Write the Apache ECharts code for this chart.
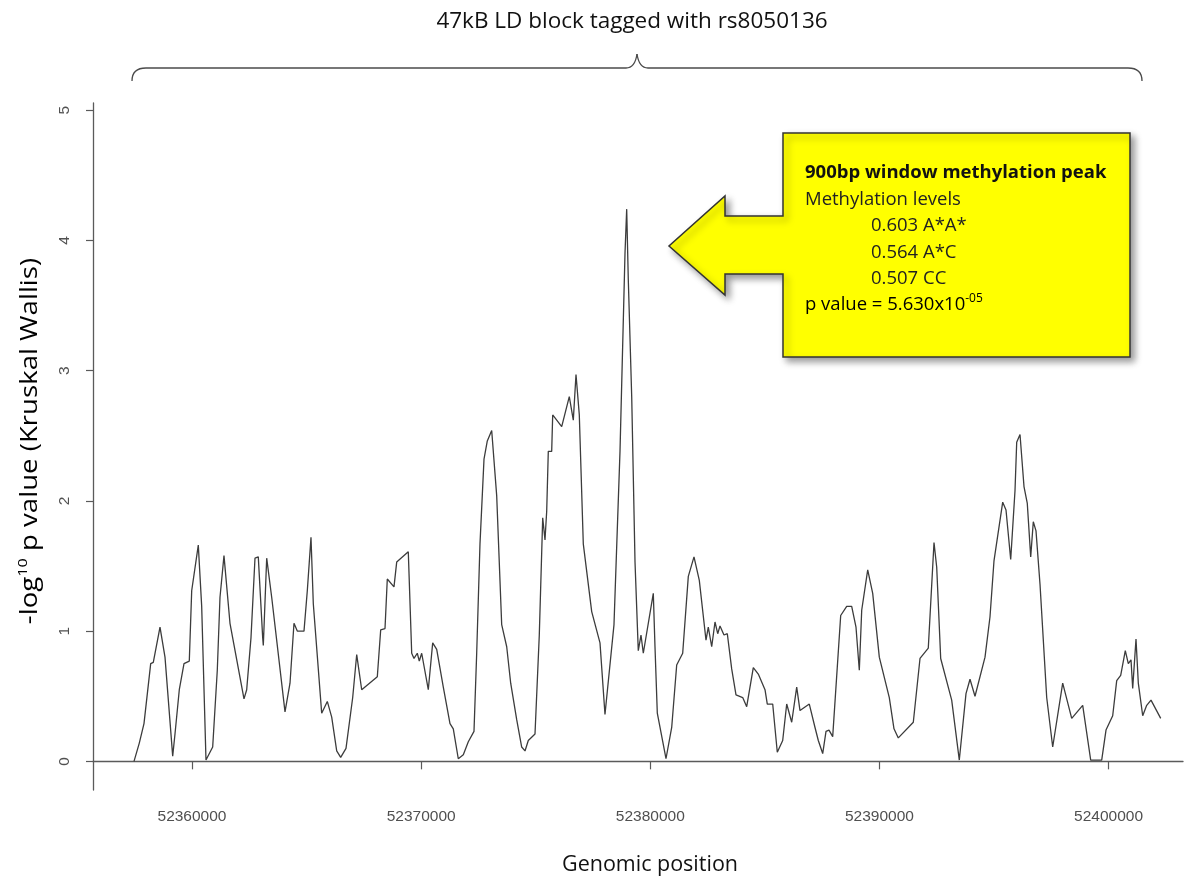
<!DOCTYPE html>
<html>
<head>
<meta charset="utf-8">
<script src="https://cdn.jsdelivr.net/npm/echarts@6.0.0/dist/echarts.min.js"></script>
<style>
  html, body { margin: 0; padding: 0; background: #ffffff; }
  #chart { width: 1192px; height: 886px; }
</style>
</head>
<body>
<div id="chart"></div>
<script>
// Genomic positions (bp) of the sliding windows
const positions = [
  52357469, 52357700, 52357905, 52358198, 52358311, 52358604, 52358822, 52359158, 52359258, 52359446,
  52359651, 52359882, 52359987, 52360275, 52360423, 52360611, 52360903, 52361104, 52361222, 52361396,
  52361658, 52362269, 52362387, 52362575, 52362749, 52362893, 52363085, 52363112, 52363260, 52363478,
  52364059, 52364277, 52364451, 52364595, 52364888, 52365032, 52365193, 52365294, 52365660, 52365905,
  52366097, 52366315, 52366489, 52366721, 52367013, 52367188, 52367406, 52368087, 52368235, 52368423,
  52368523, 52368815, 52368933, 52369439, 52369588, 52369688, 52369832, 52369919, 52370024, 52370312,
  52370504, 52370679, 52370967, 52371259, 52371403, 52371621, 52371840, 52372058, 52372306, 52372424,
  52372568, 52372743, 52372887, 52373079, 52373297, 52373515, 52373734, 52373908, 52374170, 52374388,
  52374532, 52374676, 52374969, 52375156, 52375305, 52375405, 52375479, 52375549, 52375697, 52375741,
  52376134, 52376465, 52376640, 52376758, 52376902, 52377076, 52377443, 52377805, 52378023, 52378416,
  52378678, 52378896, 52378970, 52379040, 52379189, 52379333, 52379476, 52379594, 52379695, 52380131,
  52380205, 52380306, 52380685, 52380934, 52381152, 52381414, 52381659, 52381907, 52382139, 52382431,
  52382531, 52382680, 52382824, 52382942, 52383042, 52383216, 52383361, 52383552, 52383740, 52384033,
  52384207, 52384495, 52384713, 52385006, 52385106, 52385342, 52385542, 52385778, 52385953, 52386171,
  52386389, 52386533, 52386939, 52387188, 52387332, 52387524, 52387668, 52387799, 52387960, 52388309,
  52388571, 52388789, 52388977, 52389121, 52389226, 52389488, 52389706, 52389994, 52390430, 52390635,
  52390823, 52391478, 52391770, 52392132, 52392381, 52392499, 52392673, 52393153, 52393485, 52393777,
  52393952, 52394170, 52394607, 52394825, 52394999, 52395379, 52395523, 52395728, 52395916, 52395990,
  52396134, 52396308, 52396452, 52396601, 52396714, 52396832, 52397007, 52397299, 52397561, 52397997,
  52398390, 52398870, 52399219, 52399699, 52399887, 52400179, 52400354, 52400528, 52400729, 52400860,
  52400978, 52401052, 52401196, 52401297, 52401489, 52401663, 52401851, 52402274
];

// -log10 p value (Kruskal Wallis) for each window
const negLogP = [
  0.00, 0.14, 0.29, 0.75, 0.76, 1.03, 0.80, 0.04, 0.21, 0.55,
  0.75, 0.77, 1.31, 1.66, 1.19, 0.01, 0.11, 0.70, 1.26, 1.58,
  1.06, 0.48, 0.55, 0.95, 1.56, 1.57, 0.95, 0.89, 1.56, 1.26,
  0.38, 0.60, 1.06, 1.00, 1.00, 1.31, 1.72, 1.21, 0.37, 0.46,
  0.34, 0.08, 0.03, 0.10, 0.49, 0.82, 0.55, 0.65, 1.01, 1.02,
  1.40, 1.34, 1.53, 1.61, 0.83, 0.79, 0.83, 0.77, 0.83, 0.55,
  0.91, 0.86, 0.57, 0.29, 0.25, 0.02, 0.05, 0.15, 0.23, 0.83,
  1.67, 2.32, 2.46, 2.54, 2.04, 1.05, 0.88, 0.60, 0.32, 0.11,
  0.08, 0.16, 0.21, 0.97, 1.87, 1.70, 1.92, 2.38, 2.38, 2.66,
  2.57, 2.80, 2.62, 2.97, 2.66, 1.67, 1.15, 0.91, 0.36, 1.05,
  2.38, 3.90, 4.24, 3.70, 2.80, 1.53, 0.85, 0.97, 0.83, 1.29,
  0.88, 0.37, 0.02, 0.26, 0.74, 0.83, 1.42, 1.57, 1.39, 0.93,
  1.03, 0.88, 1.07, 0.98, 1.04, 0.97, 0.98, 0.71, 0.51, 0.49,
  0.42, 0.72, 0.67, 0.55, 0.44, 0.44, 0.07, 0.16, 0.44, 0.30,
  0.57, 0.39, 0.44, 0.26, 0.16, 0.06, 0.23, 0.24, 0.19, 1.12,
  1.19, 1.19, 1.03, 0.70, 1.16, 1.47, 1.29, 0.80, 0.49, 0.25,
  0.18, 0.30, 0.79, 0.87, 1.68, 1.49, 0.79, 0.47, 0.01, 0.52,
  0.63, 0.50, 0.80, 1.11, 1.54, 1.99, 1.93, 1.55, 2.08, 2.45,
  2.51, 2.11, 1.98, 1.57, 1.84, 1.77, 1.36, 0.49, 0.11, 0.60,
  0.33, 0.43, 0.01, 0.01, 0.24, 0.35, 0.62, 0.66, 0.85, 0.75,
  0.78, 0.56, 0.94, 0.60, 0.35, 0.43, 0.47, 0.33
];

// Axis ticks
const xTicks = [52360000, 52370000, 52380000, 52390000, 52400000];
const yTicks = [0, 1, 2, 3, 4, 5];

// Text of the callout
const titleText = '47kB LD block tagged with rs8050136';
const xTitle = 'Genomic position';
const calloutHeading = '900bp window methylation peak';
const calloutSubheading = 'Methylation levels';
const genotypeLevels = ['0.603 A*A*', '0.564 A*C', '0.507 CC'];
const pValueText = 'p value = 5.630x10';
const pValueExponent = '-05';

const seriesData = positions.map((p, i) => [p, negLogP[i]]);

const TXT_FONT = "'Open Sans', 'Noto Sans', sans-serif";
const AXIS_FONT = "'Liberation Sans', Arial, sans-serif";
const AXIS_COLOR = '#5a5a5a';
const CALLOUT_SIZE = 18.5;

const chart = echarts.init(document.getElementById('chart'), null, { renderer: 'canvas' });

// Text lines inside the yellow callout (drawn above the box)
const calloutTexts = [
  { type: 'text', z: 20, x: 805, y: 173, style: { text: calloutHeading, fill: '#111', fontFamily: TXT_FONT, fontSize: CALLOUT_SIZE, fontWeight: 'bold', textVerticalAlign: 'middle' } },
  { type: 'text', z: 20, x: 805, y: 200, style: { text: calloutSubheading, fill: '#222', fontFamily: TXT_FONT, fontSize: CALLOUT_SIZE, textVerticalAlign: 'middle' } }
].concat(genotypeLevels.map((t, i) => ({
  type: 'text', z: 20, x: 871, y: 226 + i * 26.3,
  style: { text: t, fill: '#222', fontFamily: TXT_FONT, fontSize: CALLOUT_SIZE, textVerticalAlign: 'middle' }
}))).concat([
  {
    type: 'text', z: 20, x: 805, y: 305,
    style: {
      text: '{n|' + pValueText + '}{s|' + pValueExponent + '}',
      textVerticalAlign: 'middle',
      rich: {
        n: { fontFamily: TXT_FONT, fontSize: CALLOUT_SIZE, color: '#222', lineHeight: 24 },
        s: { fontFamily: TXT_FONT, fontSize: 12, color: '#222', lineHeight: 14, verticalAlign: 'top' }
      }
    }
  }
]);

const bracketStyle = { stroke: '#4a4a4a', lineWidth: 1.3, fill: null };

const option = {
  backgroundColor: '#ffffff',
  animation: false,
  grid: { left: 93, right: 9, top: 103, bottom: 96 },
  xAxis: {
    type: 'value',
    min: 52355680,
    max: 52403247,
    axisLine: { show: true, lineStyle: { color: AXIS_COLOR, width: 1.3 } },
    axisTick: { show: true, length: 8, customValues: xTicks, lineStyle: { color: AXIS_COLOR, width: 1.2 } },
    axisLabel: {
      customValues: xTicks, margin: 19, color: '#505050', fontSize: 15.5, fontFamily: AXIS_FONT,
      formatter: v => String(v)
    },
    splitLine: { show: false }
  },
  yAxis: {
    type: 'value',
    min: -0.22,
    max: 5.055,
    axisLine: { show: true, lineStyle: { color: AXIS_COLOR, width: 1.3 } },
    axisTick: { show: true, length: 7, customValues: yTicks, lineStyle: { color: AXIS_COLOR, width: 1.2 } },
    axisLabel: {
      customValues: yTicks, rotate: 90, margin: 20, color: '#505050', fontSize: 15.5, fontFamily: AXIS_FONT
    },
    splitLine: { show: false }
  },
  series: [{
    type: 'line',
    data: seriesData,
    showSymbol: false,
    symbol: 'none',
    smooth: false,
    lineStyle: { color: '#3c3c3c', width: 1.3 },
    z: 2
  }],
  graphic: [
    // Title above the LD block brace
    { type: 'text', x: 632, y: 22, style: { text: titleText, fill: '#111', fontFamily: TXT_FONT, fontSize: 22.5, textAlign: 'center', textVerticalAlign: 'middle' } },
    // Curly brace spanning the LD block
    { type: 'bezierCurve', shape: { x1: 132, y1: 81, cpx1: 132, cpy1: 68, x2: 146, y2: 68 }, style: bracketStyle },
    { type: 'line', shape: { x1: 146, y1: 68, x2: 626, y2: 68 }, style: bracketStyle },
    { type: 'bezierCurve', shape: { x1: 626, y1: 68, cpx1: 635, cpy1: 68, x2: 637, y2: 54 }, style: bracketStyle },
    { type: 'bezierCurve', shape: { x1: 637, y1: 54, cpx1: 639, cpy1: 68, x2: 648, y2: 68 }, style: bracketStyle },
    { type: 'line', shape: { x1: 648, y1: 68, x2: 1128, y2: 68 }, style: bracketStyle },
    { type: 'bezierCurve', shape: { x1: 1128, y1: 68, cpx1: 1142, cpy1: 68, x2: 1142, y2: 81 }, style: bracketStyle },
    // Axis titles
    {
      type: 'text', x: 30, y: 441, rotation: Math.PI / 2, scaleX: 1.2,
      style: {
        text: '{n|-log}{s|10}{n| p value (Kruskal Wallis)}',
        textAlign: 'center', textVerticalAlign: 'middle',
        rich: {
          n: { fontFamily: TXT_FONT, fontSize: 23, color: '#111', lineHeight: 28 },
          s: { fontFamily: TXT_FONT, fontSize: 13.5, color: '#111', lineHeight: 16, verticalAlign: 'top' }
        }
      }
    },
    { type: 'text', x: 650, y: 865, style: { text: xTitle, fill: '#111', fontFamily: TXT_FONT, fontSize: 21.5, textAlign: 'center', textVerticalAlign: 'middle' } },
    // Callout box with arrow pointing at the peak
    {
      type: 'polygon', z: 10,
      shape: {
        points: [[783, 133], [1130, 133], [1130, 357], [783, 357], [783, 274], [725, 274], [725, 295],
                 [669, 246], [725, 196], [725, 216], [783, 216]]
      },
      style: {
        fill: '#ffff00', stroke: '#333333', lineWidth: 1.5,
        shadowBlur: 7, shadowColor: 'rgba(0,0,0,0.4)', shadowOffsetX: 4, shadowOffsetY: 4
      }
    }
  ].concat(calloutTexts)
};

chart.setOption(option);
</script>
</body>
</html>
